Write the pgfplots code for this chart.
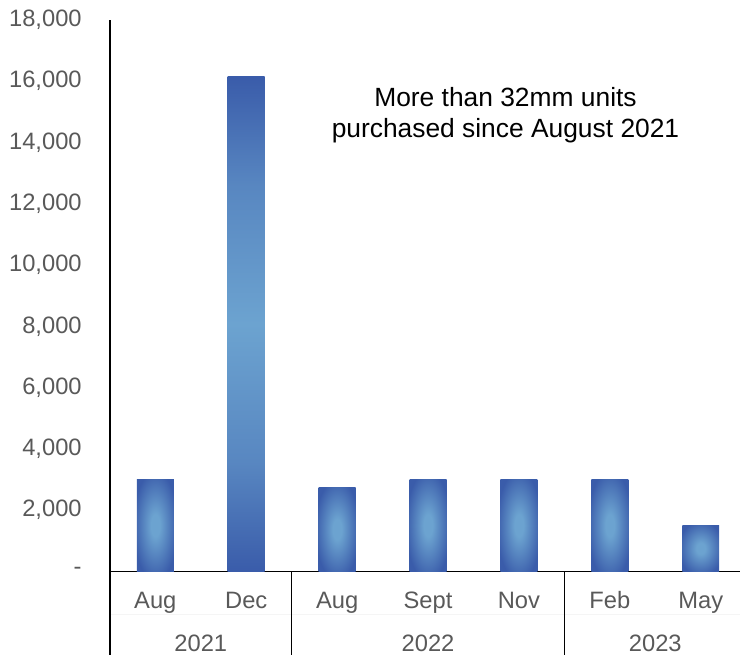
\documentclass[border=0pt]{standalone}
\usepackage{pgfplots}
\pgfplotsset{compat=1.18}
\usepackage{fontspec}
\setmainfont{Liberation Sans}
\definecolor{barin}{RGB}{108,163,208}
\definecolor{barout}{RGB}{58,92,170}
\colorlet{barmid}{barin!60!barout}
\definecolor{ticktext}{RGB}{89,89,89}
\pgfdeclareradialshading{barglow}{\pgfpointorigin}{%
  color(0bp)=(barin); color(6bp)=(barin); color(30bp)=(barout); color(50bp)=(barout)}
\pgfdeclareverticalshading{tallglow}{100bp}{%
  color(0bp)=(barout); color(25bp)=(barout); color(36bp)=(barmid); color(50bp)=(barin);
  color(64bp)=(barmid); color(75bp)=(barout); color(100bp)=(barout)}
\pgfplotsset{
  gradbar/.style={ybar, bar width=27.75pt, bar shift=0pt, draw=none, shading=barglow},
  tallbar/.style={ybar, bar width=27.75pt, bar shift=0pt, draw=none, shading=tallglow},
}
\begin{document}
\begin{tikzpicture}
% 1px = 0.75pt; axis box spans x 110..741 px, y 20..572 px
\begin{axis}[
  scale only axis,
  width=473.25pt,
  height=414pt,
  xmin=-0.5, xmax=6.434,
  ymin=0, ymax=18000,
  scaled y ticks=false,
  axis x line*=bottom,
  axis y line*=left,
  axis line style={black, line width=1.2pt},
  major tick length=0pt,
  xtick={0,...,6},
  xticklabels={Aug,Dec,Aug,Sept,Nov,Feb,May},
  ytick={0,2000,...,18000},
  yticklabels={{-\hspace{9pt}},{2,000},{4,000},{6,000},{8,000},{10,000},{12,000},{14,000},{16,000},{18,000}},
  yticklabel style={anchor=east, inner sep=0pt, xshift=-21pt, font=\fontsize{17.8}{20}\selectfont, text=ticktext},
  xticklabel style={anchor=base, inner sep=0pt, yshift=-27.75pt, font=\fontsize{17.8}{20}\selectfont, text=ticktext},
  clip=false,
]
\path (rel axis cs:-0.1743,-0.15217) rectangle (rel axis cs:1,1.03623);

% one plot per bar so that each bar gets its own gradient
\addplot[gradbar] coordinates {(0,3000)};
\addplot[tallbar] coordinates {(1,16140)};
\addplot[gradbar] coordinates {(2,2740)};
\addplot[gradbar] coordinates {(3,3000)};
\addplot[gradbar] coordinates {(4,3000)};
\addplot[gradbar] coordinates {(5,3000)};
\addplot[gradbar] coordinates {(6,1500)};

% faint rule between month and year rows
\draw[black!4, line width=0.6pt] ([yshift=-32.25pt]axis cs:-0.5,0) -- ([yshift=-32.25pt]axis cs:6.434,0);

% group separators
\draw[black, line width=1.2pt] (axis cs:-0.5,0) -- ([yshift=-63pt]axis cs:-0.5,0);
\draw[black, line width=1.2pt] (axis cs:1.5,0) -- ([yshift=-63pt]axis cs:1.5,0);
\draw[black, line width=1.2pt] (axis cs:4.5,0) -- ([yshift=-63pt]axis cs:4.5,0);

\node[anchor=base, inner sep=0pt, text=ticktext, font=\fontsize{17.8}{20}\selectfont] at ([yshift=-60pt]axis cs:0.5,0) {2021};
\node[anchor=base, inner sep=0pt, text=ticktext, font=\fontsize{17.8}{20}\selectfont] at ([yshift=-60pt]axis cs:3,0) {2022};
\node[anchor=base, inner sep=0pt, text=ticktext, font=\fontsize{17.8}{20}\selectfont] at ([yshift=-60pt]axis cs:5.5,0) {2023};

\node[align=center, inner sep=0pt, font=\fontsize{19.8}{23.25}\selectfont] at (axis cs:3.852,14890)
  {More than 32mm units\\purchased since August 2021};
\end{axis}
\end{tikzpicture}
\end{document}
